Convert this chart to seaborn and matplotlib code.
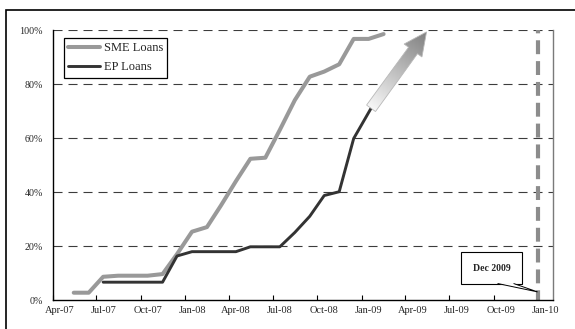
import numpy as np
import pandas as pd
import matplotlib
matplotlib.use("Agg")
import matplotlib.pyplot as plt
import matplotlib.dates as mdates
import matplotlib.transforms as mtransforms
from matplotlib.patches import Polygon, Rectangle
from matplotlib.ticker import FuncFormatter
import seaborn as sns

# Cumulative share of loans disbursed (%)
sme_dates = ["2007-05-15", "2007-06-15", "2007-07-15", "2007-08-15", "2007-09-15",
             "2007-10-15", "2007-11-15", "2007-12-15", "2008-01-15", "2008-02-15",
             "2008-03-15", "2008-04-15", "2008-05-15", "2008-06-15", "2008-07-15",
             "2008-08-15", "2008-09-15", "2008-10-15", "2008-11-15", "2008-12-15",
             "2009-01-15", "2009-02-15"]
sme_values = [2.7, 2.7, 8.6, 9.0, 9.0, 9.0, 9.6, 17.0, 25.3, 27.0, 35.0, 44.0,
              52.3, 52.7, 63.0, 74.0, 82.7, 84.6, 87.3, 96.7, 96.7, 98.5]

ep_dates = ["2007-07-15", "2007-08-15", "2007-09-15", "2007-10-15", "2007-11-15",
            "2007-12-15", "2008-01-15", "2008-02-15", "2008-03-15", "2008-04-15",
            "2008-05-15", "2008-06-15", "2008-07-15", "2008-08-15", "2008-09-15",
            "2008-10-15", "2008-11-15", "2008-12-15", "2009-01-20"]
ep_values = [6.6, 6.6, 6.6, 6.6, 6.6, 16.3, 17.9, 17.9, 17.9, 17.9, 19.7, 19.7,
             19.7, 25.0, 31.0, 38.7, 40.1, 59.8, 71.0]

series_labels = ["SME Loans", "EP Loans"]
projection_target = ("2009-05-15", 99.3)
deadline_date = "2009-12-31"
deadline_label = "Dec 2009"
y_ticks = [0, 20, 40, 60, 80, 100]

sns.set_style("white")
plt.rcParams["font.family"] = ["Liberation Serif", "DejaVu Serif"]
plt.rcParams["lines.scale_dashes"] = False

sme = pd.DataFrame({"date": pd.to_datetime(sme_dates), "value": sme_values})
ep = pd.DataFrame({"date": pd.to_datetime(ep_dates), "value": ep_values})

fig = plt.figure(figsize=(5.75, 3.29), dpi=100)
ax = fig.add_axes([52.5 / 575, 1 - 300 / 329, 500.5 / 575, 270 / 329])

# horizontal dashed gridlines
for v in y_ticks[1:]:
    ax.axhline(v, color="#3c3c3c", lw=0.8, ls=(0, (6.5, 4.3)), zorder=1)

sns.lineplot(data=sme, x="date", y="value", ax=ax, color="#999999", lw=2.9,
             label=series_labels[0], zorder=3, solid_joinstyle="round")
sns.lineplot(data=ep, x="date", y="value", ax=ax, color="#333333", lw=2.1,
             label=series_labels[1], zorder=4, solid_joinstyle="round")

# deadline marker
deadline = pd.Timestamp(deadline_date)
ax.axvline(deadline, color="#8c8c8c", lw=3.0, ls=(3, (10, 5)), zorder=2)

xlim = (mdates.date2num(pd.Timestamp("2007-04-01")), mdates.date2num(pd.Timestamp("2010-02-01")))
ylim = (0, 100)
ax.set_xlim(xlim)
ax.set_ylim(ylim)

ax.xaxis.set_major_locator(mdates.MonthLocator(bymonth=[1, 4, 7, 10]))
ax.xaxis.set_major_formatter(mdates.DateFormatter("%b-%y"))
ax.set_yticks(y_ticks)
ax.yaxis.set_major_formatter(FuncFormatter(lambda v, p: f"{v:.0f}%"))
ax.set_xlabel("")
ax.set_ylabel("")

ax.tick_params(axis="x", direction="in", length=3.5, width=0.8, color="black",
               labelsize=7.5, pad=4, bottom=True)
ax.tick_params(axis="y", length=0, labelsize=7.2, pad=7)
offset = mtransforms.ScaledTranslation(7 / 100, 0, fig.dpi_scale_trans)
for lbl in ax.get_xticklabels():
    lbl.set_transform(lbl.get_transform() + offset)

for side in ["left", "bottom"]:
    ax.spines[side].set_color("black")
    ax.spines[side].set_linewidth(1.0)
ax.spines["right"].set_color("#7a7a7a")
ax.spines["right"].set_linewidth(1.0)
ax.spines["top"].set_visible(False)

leg = ax.legend(loc="upper left", bbox_to_anchor=(0.022, 0.97), borderaxespad=0,
                frameon=True, fancybox=False, fontsize=9, handlelength=2.6,
                handletextpad=0.25, labelspacing=0.55, borderpad=0.35)
leg.get_frame().set_edgecolor("black")
leg.get_frame().set_linewidth(0.9)
leg.get_frame().set_alpha(1)

to_data = ax.transData.inverted()

# projection arrow with a light-to-dark gradient fill
p0 = ax.transData.transform((mdates.date2num(ep["date"].iloc[-1]), ep["value"].iloc[-1]))
p1 = ax.transData.transform((mdates.date2num(pd.Timestamp(projection_target[0])),
                             projection_target[1]))
d = p1 - p0
L = np.hypot(*d)
u = d / L
n = np.array([-u[1], u[0]])
bw, hw, hl = 5.5, 11.0, 23.0
base = p1 - u * hl
verts = np.array([p0 + n * bw, base + n * bw, base + n * hw, p1,
                  base - n * hw, base - n * bw, p0 - n * bw])
arrow = Polygon(to_data.transform(verts), closed=True, transform=ax.transData, fc="none",
                ec="#b8b8b8", lw=0.6, zorder=6)
ax.add_patch(arrow)

xmin, ymin = verts.min(axis=0)
xmax, ymax = verts.max(axis=0)
W, H = 200, 200
X, Y = np.meshgrid(np.linspace(xmin, xmax, W), np.linspace(ymin, ymax, H))
t = np.clip(((X - p0[0]) * u[0] + (Y - p0[1]) * u[1]) / L, 0, 1)
g = 0.97 - t * 0.47
rgb = np.dstack([g, g, g])
(dx0, dy0) = to_data.transform((xmin, ymin))
(dx1, dy1) = to_data.transform((xmax, ymax))
im = ax.imshow(rgb, extent=(dx0, dx1, dy0, dy1), origin="lower", aspect="auto",
               interpolation="bilinear", zorder=5)
im.set_clip_path(arrow)
ax.set_xlim(xlim)
ax.set_ylim(ylim)

# deadline callout: labelled box with a thin pointer down to the marker
anchor = (mdates.date2num(deadline), 3)
ax.annotate(deadline_label, xy=anchor, xytext=(-33, 17), textcoords="offset points",
            ha="center", va="center", fontsize=7, fontweight="bold",
            bbox=dict(boxstyle="square,pad=1.2", fc="white", ec="black", lw=0.8),
            zorder=7)
tip = ax.transData.transform(anchor)
tail = np.array([tip + (-40, 8.4), tip, tip + (-24, 8.4)])
ax.add_patch(Polygon(to_data.transform(tail), closed=False, transform=ax.transData,
                     fc="white", ec="black", lw=0.7, zorder=8))
ax.set_xlim(xlim)
ax.set_ylim(ylim)

# outer frame
fig.add_artist(Rectangle((6 / 575, -0.5), 2.0, 0.5 + 1 - 10 / 329, transform=fig.transFigure,
                         fill=False, ec="black", lw=1.2))

fig.savefig("out.png", dpi=100)
